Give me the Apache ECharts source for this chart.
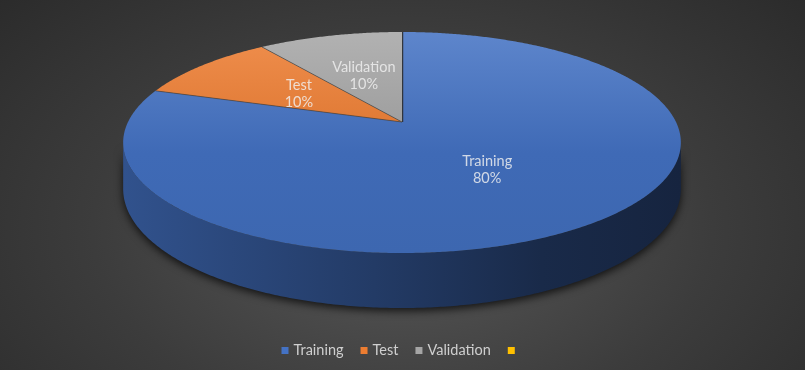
<!DOCTYPE html>
<html><head><meta charset="utf-8">
<script src="https://cdn.jsdelivr.net/npm/echarts@6/dist/echarts.min.js"></script>
<style>
html,body{margin:0;padding:0;background:#2b2b2b;}
#c{width:805px;height:370px;background:radial-gradient(ellipse 70% 95% at 50% 62%, #585858 0%, #3c3c3c 55%, #2a2a2a 100%);}
</style></head><body><div id="c"></div>
<script>
// ---- data ----
const categories = ['Training', 'Test', 'Validation', ' '];
const values = [80, 10, 10, 0];
const colors = ['#4472c4', '#ed7d31', '#a5a5a5', '#ffc000'];

// ---- style / geometry (perspective ellipse) ----
const G = {cx: 402, cy: 122, A: 274, B: 106.7, k: 0.1855, H: 44.8};
const labelR = [0.49, 0.49, 0.49, 0.49];
const labelDy = [2, 1, 0, 0];
const total = values.reduce((a, b) => a + b, 0);

function proj(phi, r, down) {
  const u = r * Math.sin(phi), v = -r * Math.cos(phi);
  const w = 1 - G.k * v;
  return [G.cx + G.A * u / w, G.cy + (G.B * v + (down ? G.H : 0)) / w];
}
function hex(c){return [parseInt(c.slice(1,3),16),parseInt(c.slice(3,5),16),parseInt(c.slice(5,7),16)];}
function shade(c, f){const a=hex(c);return 'rgb('+a.map(x=>Math.round(x*f)).join(',')+')';}
function tint(c, t){const a=hex(c);return 'rgb('+a.map(x=>Math.round(x+(255-x)*t)).join(',')+')';}

function renderItem(params, api) {
  const i = params.seriesIndex;
  const val = api.value(0);
  const children = [];
  if (!val) return {type: 'group', children};
  let before = 0;
  for (let j = 0; j < i; j++) before += values[j];
  const s = before / total * 2 * Math.PI, e = (before + val) / total * 2 * Math.PI;
  const col = colors[i];
  // side wall (front visible part)
  const f1 = Math.acos(-G.k), f2 = 2 * Math.PI - f1;
  const lo = Math.max(s, f1), hi = Math.min(e, f2);
  if (hi > lo) {
    const n = Math.max(4, Math.ceil((hi - lo) / 0.01));
    const pts = [];
    for (let t = 0; t <= n; t++) pts.push(proj(lo + (hi - lo) * t / n, 1, false));
    for (let t = n; t >= 0; t--) pts.push(proj(lo + (hi - lo) * t / n, 1, true));
    children.push({
      type: 'polygon', shape: {points: pts},
      style: {
        fill: new echarts.graphic.LinearGradient(G.cx - G.A * 1.02, 0, G.cx + G.A * 1.02, 0, [
          {offset: 0, color: shade(col, 0.72)},
          {offset: 0.45, color: shade(col, 0.52)},
          {offset: 0.75, color: shade(col, 0.37)},
          {offset: 1, color: shade(col, 0.32)}
        ], true),
        shadowBlur: 8, shadowColor: 'rgba(0,0,0,0.75)', shadowOffsetY: 3
      }
    });
  }
  // top face
  const n2 = Math.max(4, Math.ceil((e - s) / 0.008));
  const top = [[G.cx, G.cy]];
  for (let t = 0; t <= n2; t++) top.push(proj(s + (e - s) * t / n2, 1, false));
  children.push({
    type: 'polygon', shape: {points: top},
    style: {
      fill: new echarts.graphic.LinearGradient(0, G.cy - 92, 0, G.cy + 132, [
        {offset: 0, color: tint(col, 0.14)},
        {offset: 0.55, color: shade(col, 0.93)},
        {offset: 1, color: shade(col, 0.9)}
      ], true)
    }
  });
  // radial edge at slice start
  const p0 = proj(s, 1, false);
  children.push({
    type: 'line', shape: {x1: G.cx, y1: G.cy, x2: p0[0], y2: p0[1]},
    style: {stroke: i === 0 ? 'rgba(45,45,45,0.9)' : 'rgba(60,60,60,0.6)', lineWidth: i === 0 ? 2.5 : 1}
  });
  // label
  const mid = (s + e) / 2;
  const lp = proj(mid, labelR[i], false);
  children.push({
    type: 'text', x: lp[0], y: lp[1] + labelDy[i], z2: 10,
    style: {
      text: categories[i] + '\n' + Math.round(val / total * 100) + '%',
      fill: 'rgba(240,240,240,0.82)', font: '14.5px Lato', align: 'center', verticalAlign: 'middle', lineHeight: 17
    }
  });
  return {type: 'group', children};
}

const chart = echarts.init(document.getElementById('c'), null, {renderer: 'canvas'});
const series = categories.map((name, i) => ({
  type: 'custom', name: name, coordinateSystem: 'none', silent: true,
  itemStyle: {color: colors[i]},
  renderItem: renderItem,
  data: [[values[i]]],
  z: i === 0 ? 1 : 2
}));
chart.setOption({
  backgroundColor: 'transparent',
  animation: false,
  legend: {
    data: categories, left: 'center', top: 338, icon: 'rect', itemWidth: 7, itemHeight: 7, itemGap: 17,
    textStyle: {color: '#cfcfcf', fontSize: 14.5, fontFamily: 'Lato'}, selectedMode: false
  },
  series: series
});
</script></body></html>
